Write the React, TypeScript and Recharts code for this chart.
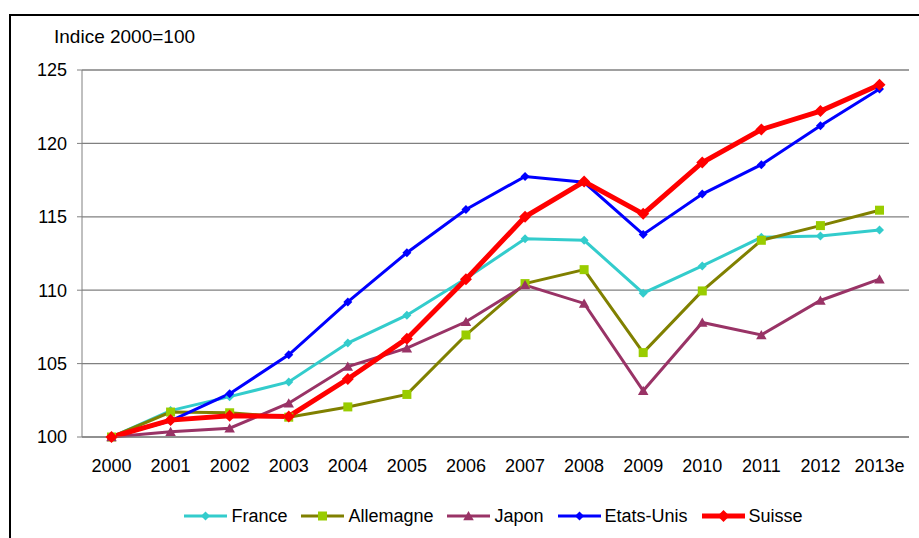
import { LineChart, Line, XAxis, YAxis, CartesianGrid, Legend } from 'recharts';

const years = ['2000', '2001', '2002', '2003', '2004', '2005', '2006', '2007', '2008', '2009', '2010', '2011', '2012', '2013e'];
const france = [100, 101.8, 102.75, 103.75, 106.4, 108.3, 110.8, 113.5, 113.4, 109.8, 111.65, 113.6, 113.7, 114.1];
const allemagne = [100, 101.7, 101.65, 101.35, 102.05, 102.9, 106.95, 110.45, 111.4, 105.75, 109.95, 113.4, 114.4, 115.45];
const japon = [100, 100.35, 100.6, 102.3, 104.8, 106.05, 107.85, 110.35, 109.1, 103.15, 107.8, 106.95, 109.3, 110.75];
const etatsUnis = [100, 101.1, 102.95, 105.6, 109.2, 112.55, 115.5, 117.75, 117.35, 113.8, 116.55, 118.55, 121.2, 123.7];
const suisse = [100, 101.15, 101.45, 101.4, 103.95, 106.7, 110.75, 115.0, 117.4, 115.2, 118.7, 120.95, 122.2, 124.0];
const yTicks = [100, 105, 110, 115, 120, 125];
const edgeTicks = [0, 1, 2, 3, 4, 5, 6, 7, 8, 9, 10, 11, 12, 13, 14];

const rows = years.map((year, i) => ({
  year,
  idx: i + 0.5,
  France: france[i],
  Allemagne: allemagne[i],
  Japon: japon[i],
  'Etats-Unis': etatsUnis[i],
  Suisse: suisse[i],
}));

const FONT = '"Liberation Sans", Arial, sans-serif';

type Shape = 'diamond' | 'square' | 'triangle';

function markerPath(shape: Shape, x: number, y: number, r: number) {
  if (shape === 'diamond') return `M${x},${y - r}L${x + r},${y}L${x},${y + r}L${x - r},${y}Z`;
  if (shape === 'square') return `M${x - r},${y - r}H${x + r}V${y + r}H${x - r}Z`;
  return `M${x},${y - r}L${x + r * 1.05},${y + r * 0.85}L${x - r * 1.05},${y + r * 0.85}Z`;
}

const series = [
  { key: 'France', stroke: '#33CCCC', fill: '#33CCCC', width: 3, shape: 'diamond' as Shape, r: 4.5 },
  { key: 'Allemagne', stroke: '#808000', fill: '#99CC00', width: 3, shape: 'square' as Shape, r: 4.5 },
  { key: 'Japon', stroke: '#993366', fill: '#993366', width: 3, shape: 'triangle' as Shape, r: 5 },
  { key: 'Etats-Unis', stroke: '#0000FF', fill: '#0000FF', width: 3, shape: 'diamond' as Shape, r: 4.5 },
  { key: 'Suisse', stroke: '#FF0000', fill: '#FF0000', width: 5, shape: 'diamond' as Shape, r: 6 },
];

const makeDot = (shape: Shape, r: number, fill: string) => (p: any) => (
  <path key={`${p.dataKey}-${p.index}`} d={markerPath(shape, p.cx, p.cy, r)} fill={fill} />
);

function LegendBox() {
  return (
    <div style={{ display: 'flex', justifyContent: 'center', paddingLeft: 56, height: 24, alignItems: 'center', fontFamily: FONT, fontSize: 18, color: '#000' }}>
      {series.map((s, i) => (
        <div key={s.key} style={{ display: 'flex', alignItems: 'center', marginLeft: i ? 14 : 0 }}>
          <svg width={43} height={14}>
            <line x1={0} y1={7} x2={43} y2={7} stroke={s.stroke} strokeWidth={s.width} />
            <path d={markerPath(s.shape, 21.5, 7, s.r)} fill={s.fill} />
          </svg>
          <span style={{ marginLeft: 4, lineHeight: '24px' }}>{s.key}</span>
        </div>
      ))}
    </div>
  );
}

export default function App() {
  return (
    <div style={{ position: 'fixed', left: 0, top: 0, width: 919, height: 538, overflow: 'hidden', background: '#fff' }}>
      <div style={{ position: 'absolute', left: 9, top: 14, width: 2000, height: 2000, borderLeft: '2px solid #000', borderTop: '2px solid #000' }} />
      <div style={{ position: 'absolute', left: 54, top: 27, fontFamily: FONT, fontSize: 19, lineHeight: '19px', color: '#000' }}>
        Indice 2000=100
      </div>
      <LineChart
        width={919}
        height={538}
        data={rows}
        margin={{ top: 70, right: 10, left: 22, bottom: 10 }}
        style={{ position: 'absolute', left: 0, top: 0 }}
      >
        <CartesianGrid vertical={false} stroke="#808080" strokeWidth={1.3} />
        <XAxis
          xAxisId="edges"
          dataKey="idx"
          type="number"
          domain={[0, 14]}
          ticks={edgeTicks}
          tick={false}
          axisLine={false}
          tickLine={{ stroke: '#808080' }}
          tickSize={6}
          height={0}
        />
        <XAxis
          dataKey="year"
          padding={{ left: 29.5, right: 29.5 }}
          tickLine={false}
          tickSize={0}
          tickMargin={22}
          axisLine={{ stroke: '#808080' }}
          tick={{ fill: '#000', fontSize: 18, fontFamily: FONT }}
          interval={0}
          height={67}
        />
        <YAxis
          width={60}
          domain={[100, 125]}
          ticks={yTicks}
          tickSize={5}
          tickMargin={10}
          axisLine={{ stroke: '#808080' }}
          tickLine={{ stroke: '#808080' }}
          tick={{ fill: '#000', fontSize: 18, fontFamily: FONT }}
        />
        <Legend verticalAlign="bottom" content={() => <LegendBox />} />
        {series.map((s) => (
          <Line
            key={s.key}
            dataKey={s.key}
            stroke={s.stroke}
            strokeWidth={s.width}
            dot={makeDot(s.shape, s.r, s.fill)}
            activeDot={false}
            isAnimationActive={false}
          />
        ))}
      </LineChart>
    </div>
  );
}
